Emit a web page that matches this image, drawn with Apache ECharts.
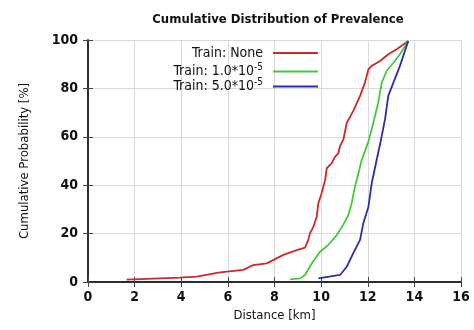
<!DOCTYPE html>
<html><head><meta charset="utf-8">
<script src="https://cdn.jsdelivr.net/npm/echarts@6/dist/echarts.min.js"></script>
<style>html,body{margin:0;padding:0;background:#fff}#c{width:474px;height:330px}</style>
</head><body><div id="c"></div>
<script>
const seriesNames = ['Train: None', 'Train: 1.0*10^-5', 'Train: 5.0*10^-5'];
const xTicks = [0, 2, 4, 6, 8, 10, 12, 14, 16];
const yTicks = [0, 20, 40, 60, 80, 100];
const redX = [1.66, 1.94, 3.95, 4.66, 5.66, 6.66, 7.09, 7.67, 8.38, 8.95, 9.31, 9.45, 9.52, 9.67, 9.81, 9.88, 10.02, 10.17, 10.24, 10.45, 10.6, 10.74, 10.81, 10.95, 11.1, 11.38, 11.67, 11.88, 12.03, 12.17, 12.53, 12.88, 13.24, 13.74];
const redY = [1.0, 1.1, 1.8, 2.2, 4.0, 5.0, 7.0, 7.7, 11.2, 13.2, 14.2, 17.4, 20.1, 22.9, 27, 32.5, 36.7, 42.1, 47, 49, 51.8, 53.2, 56.2, 58.7, 65.8, 70.7, 76.9, 82.4, 87.9, 89.3, 91.3, 94.1, 96.2, 99.6];
const greenX = [8.67, 9.1, 9.31, 9.6, 9.95, 10.31, 10.67, 10.95, 11.17, 11.31, 11.45, 11.6, 11.74, 12.03, 12.24, 12.45, 12.6, 12.81, 13.1, 13.38, 13.74];
const greenY = [1.1, 1.5, 2.9, 7.7, 12.5, 15.3, 19.4, 23.6, 27.7, 32.5, 39.4, 44.9, 50.4, 58.0, 65.8, 74.1, 82.4, 87.2, 90.6, 94.1, 99.6];
const blueX = [9.88, 10.81, 11.1, 11.38, 11.67, 11.81, 12.03, 12.17, 12.38, 12.53, 12.74, 12.88, 13.1, 13.38, 13.74];
const blueY = [1.5, 2.9, 6.3, 11.9, 17.4, 24.3, 31.1, 40.8, 50.4, 57, 67.2, 76.9, 82.4, 89.3, 99.6];

const FONT = '"Liberation Sans Narrow","DejaVu Sans Condensed","Noto Sans",sans-serif';
const colors = ['#cc2a2a', '#44c83a', '#2e2eaa'];
const pairs = (xs, ys) => xs.map((x, i) => [x, ys[i]]);
const datasets = [pairs(redX, redY), pairs(greenX, greenY), pairs(blueX, blueY)];

const chart = echarts.init(document.getElementById('c'), null, {renderer: 'canvas'});
const rich = {
  t: {fontFamily: FONT, fontSize: 14, color: '#111', fontWeight: 500},
  s: {fontFamily: FONT, fontSize: 10, color: '#111', verticalAlign: 'top', padding: [0, 0, 9, 0]}
};
const fmt = name => {
  const m = name.split('^');
  return m.length > 1 ? '{t|' + m[0] + '}{s|' + m[1] + '}' : '{t|' + name + '}';
};
const legendTops = [46, 62, 77];
const legends = seriesNames.map((n, i) => ({
  data: [n], right: 156, top: legendTops[i], orient: 'vertical', align: 'right',
  icon: 'path://M0,0L45,0L45,2L0,2Z', itemWidth: 45, itemHeight: 2, itemGap: 0, padding: 0,
  formatter: fmt, textStyle: {rich: rich, padding: [0, 5, 0, 0]}, selectedMode: false
}));
const axisLabel = {fontFamily: FONT, fontSize: 14, color: '#111', fontWeight: 'bold'};
chart.setOption({
  animation: false,
  title: {text: 'Cumulative Distribution of Prevalence', left: 273, textAlign: 'center', top: 8,
    textStyle: {fontFamily: FONT, fontSize: 13, fontWeight: 'bold', color: '#111'}},
  legend: legends,
  grid: {left: 88, right: 13, top: 40, bottom: 48},
  xAxis: [{
    type: 'value', min: 0, max: 16, interval: 2,
    name: 'Distance [km]', nameLocation: 'middle', nameGap: 27,
    nameTextStyle: {fontFamily: FONT, fontSize: 13, color: '#111', fontWeight: 500},
    axisLine: {show: true, onZero: false, lineStyle: {color: '#222', width: 1.5}},
    axisTick: {show: true, inside: true, length: 5, lineStyle: {color: '#444'}},
    axisLabel: Object.assign({margin: 8}, axisLabel),
    splitLine: {show: true, lineStyle: {color: '#d9d9d9', width: 1}}
  }, {
    type: 'value', min: 0, max: 16, interval: 2, position: 'top',
    axisLine: {show: true, lineStyle: {color: '#222', width: 1.5}},
    axisTick: {show: true, inside: true, length: 5, lineStyle: {color: '#444'}},
    axisLabel: {show: false}, splitLine: {show: false}
  }],
  yAxis: [{
    type: 'value', min: 0, max: 100, interval: 20,
    name: 'Cumulative Probability [%]', nameLocation: 'middle', nameGap: 57,
    nameTextStyle: {fontFamily: FONT, fontSize: 13, color: '#111', fontWeight: 500},
    axisLine: {show: true, onZero: false, lineStyle: {color: '#222', width: 1.5}},
    axisTick: {show: true, inside: true, length: 5, lineStyle: {color: '#444'}},
    axisLabel: Object.assign({margin: 10}, axisLabel),
    splitLine: {show: true, lineStyle: {color: '#d9d9d9', width: 1}}
  }, {
    type: 'value', min: 0, max: 100, interval: 20, position: 'right',
    axisLine: {show: true, lineStyle: {color: '#222', width: 1.5}},
    axisTick: {show: true, inside: true, length: 5, lineStyle: {color: '#444'}},
    axisLabel: {show: false}, splitLine: {show: false}
  }],
  series: seriesNames.map((n, i) => ({
    name: n, type: 'line', data: datasets[i], showSymbol: false, symbol: 'none',
    lineStyle: {color: colors[i], width: 1.8}, itemStyle: {color: colors[i]}, z: 3 + i
  }))
});
</script></body></html>
